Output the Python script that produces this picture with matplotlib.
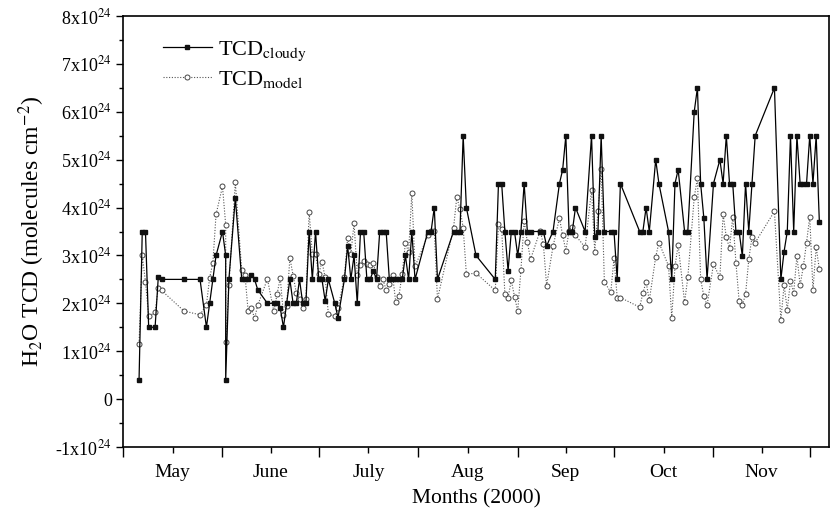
import matplotlib
matplotlib.use("Agg")
import matplotlib.pyplot as plt
from matplotlib.ticker import FixedLocator, FuncFormatter, MultipleLocator

plt.rcParams['font.family'] = ['Liberation Serif', 'DejaVu Serif']
plt.rcParams['mathtext.fontset'] = 'stix'

# days since 1 May 2000
days = [5, 6, 7, 8, 10, 11, 12,
        19, 24, 26, 27, 28, 29, 31, 32, 32, 33, 35,
        37, 38, 39, 40, 41, 42,
        45, 47, 48, 49, 50, 51, 52, 53, 54, 55, 56, 57, 58, 59, 60, 61, 62, 63, 64,
        66, 67,
        69, 70, 71, 72, 73, 74, 75, 76, 77, 78, 79, 80, 81, 82, 83, 84, 85, 86, 87, 88, 89, 90, 91,
        95, 96, 97, 98,
        103, 104, 105, 106, 107, 110,
        116, 117, 118, 119, 120, 121, 122, 123, 124, 125, 126, 127,
        130, 131, 132, 134,
        136, 137, 138, 139, 140, 141, 144,
        146, 147, 148, 149, 150,
        152, 153, 154, 155,
        161, 162, 163, 164, 166, 167,
        170, 171, 172, 173, 175, 176,
        178, 179, 180, 181, 182, 184,
        186, 187, 188, 189, 190, 191, 192, 193, 194, 195, 196, 197,
        203,
        205, 206, 207, 208, 209, 210, 211, 212, 213, 214, 215, 216, 217]

# TCD in units of 1e24 molecules cm^-2
tcd_cloudy = [0.4, 3.5, 3.5, 1.5, 1.5, 2.55, 2.5,
              2.5, 2.5, 1.5, 2.0, 2.5, 3.0, 3.5, 3.0, 0.4, 2.5, 4.2,
              2.5, 2.5, 2.5, 2.6, 2.5, 2.28,
              2.0, 2.0, 2.0, 1.9, 1.5, 2.0, 2.5, 2.0, 2.0, 2.5, 2.0, 2.0, 3.5, 2.5, 3.5, 2.5, 2.5, 2.05, 2.5,
              2.0, 1.7,
              2.5, 3.2, 2.5, 3.0, 2.0, 3.5, 3.5, 2.5, 2.5, 2.68, 2.5, 3.5, 3.5, 3.5, 2.5, 2.5, 2.5, 2.5, 2.5, 3.0, 2.5, 3.5, 2.5,
              3.5, 3.5, 4.0, 2.5,
              3.5, 3.5, 3.5, 5.5, 4.0, 3.0,
              2.5, 4.5, 4.5, 3.5, 2.68, 3.5, 3.5, 3.0, 3.5, 4.5, 3.5, 3.5,
              3.5, 3.5, 3.2, 3.5,
              4.5, 4.79, 5.5, 3.5, 3.5, 4.0, 3.5,
              5.5, 3.38, 3.5, 5.5, 3.5,
              3.5, 3.5, 2.5, 4.5,
              3.5, 3.5, 4.0, 3.5, 5.0, 4.5,
              3.5, 2.5, 4.5, 4.79, 3.5, 3.5,
              6.0, 6.5, 4.5, 3.78, 2.5, 4.5,
              5.0, 4.5, 5.5, 4.5, 4.5, 3.5, 3.5, 2.98, 4.5, 3.5, 4.5, 5.5,
              6.5,
              2.5, 3.08, 3.5, 5.5, 3.5, 5.5, 4.5, 4.5, 4.5, 5.5, 4.5, 5.5, 3.69]

tcd_model = [1.16, 3.0, 2.45, 1.73, 1.81, 2.33, 2.27,
             1.84, 1.76, 1.97, 2.53, 2.85, 3.86, 4.44, 3.64, 1.19, 2.38, 4.53,
             2.69, 2.6, 1.83, 1.9, 1.69, 1.96,
             2.51, 1.83, 2.19, 2.53, 1.76, 1.95, 2.95, 2.58, 2.22, 2.1, 1.9, 2.09, 3.91, 3.02, 3.02, 2.61, 2.87, 2.54, 1.77,
             1.74, 1.9,
             2.55, 3.37, 3.03, 3.67, 2.6, 2.8, 2.89, 2.83, 2.8, 2.85, 2.55, 2.36, 2.5, 2.28, 2.41, 2.59, 2.02, 2.16, 2.62, 3.26, 3.07, 4.3, 2.77,
             3.42, 3.51, 3.51, 2.09,
             3.57, 4.21, 3.98, 3.58, 2.61, 2.63,
             2.27, 3.65, 3.56, 2.19, 2.12, 2.48, 2.14, 1.84, 2.7, 3.72, 3.28, 2.92,
             3.52, 3.23, 2.37, 3.19,
             3.78, 3.42, 3.1, 3.51, 3.6, 3.42, 3.17,
             4.37, 3.08, 3.92, 4.8, 2.45,
             2.23, 2.94, 2.12, 2.12,
             1.92, 2.21, 2.45, 2.06, 2.97, 3.27,
             2.78, 1.7, 2.77, 3.22, 2.02, 2.54,
             4.21, 4.62, 2.5, 2.15, 1.96, 2.82,
             2.54, 3.86, 3.38, 3.15, 3.81, 2.85, 2.04, 1.96, 2.19, 2.92, 3.38, 3.27,
             3.92,
             1.65, 2.38, 1.87, 2.47, 2.22, 2.99, 2.38, 2.77, 3.27, 3.81, 2.28, 3.17, 2.71]

month_names = ['May', 'June', 'July', 'Aug', 'Sep', 'Oct', 'Nov']
month_starts = [0, 31, 61, 92, 123, 153, 184, 214]

fig = plt.figure(figsize=(8.31, 5.13), dpi=100)
ax = fig.add_axes([123/831, 66/513, (829-123)/831, (447-16)/513])

ax.plot(days, tcd_model, linestyle=(0, (1, 1.5)), color='#555555', linewidth=0.8,
        marker='o', markersize=3.6, markerfacecolor='white', markeredgecolor='#444444',
        markeredgewidth=0.7, label=r'TCD$_{\mathrm{model}}$', zorder=2)
ax.plot(days, tcd_cloudy, linestyle='-', color='black', linewidth=0.9,
        marker='s', markersize=3.3, markerfacecolor='#111111', markeredgecolor='#111111',
        label=r'TCD$_{\mathrm{cloudy}}$', zorder=3)

ax.set_xlim(0, 220)
ax.set_ylim(-1, 8)

ax.xaxis.set_major_locator(FixedLocator(month_starts))
mids = [(month_starts[i] + month_starts[i+1]) / 2 for i in range(len(month_names))]
ax.xaxis.set_minor_locator(FixedLocator(mids))
ax.set_xticklabels([])
ax.set_xticklabels(month_names, minor=True)

ax.yaxis.set_major_locator(MultipleLocator(1))
ax.yaxis.set_minor_locator(MultipleLocator(0.5))

def yfmt(v, pos):
    if abs(v) < 1e-9:
        return '0'
    return r'%dx10$^{24}$' % int(round(v))
ax.yaxis.set_major_formatter(FuncFormatter(yfmt))

ax.tick_params(axis='both', which='both', direction='out', top=False, right=False, width=1.0)
ax.tick_params(axis='y', which='major', length=5, labelsize=13, pad=3)
ax.tick_params(axis='y', which='minor', length=3)
ax.tick_params(axis='x', which='major', length=7)
ax.tick_params(axis='x', which='minor', length=4, labelsize=14, pad=8)

for s in ax.spines.values():
    s.set_linewidth(1.2)

ax.set_xlabel('Months (2000)', fontsize=15.5, labelpad=6)
ax.set_ylabel(r'H$_2$O TCD (molecules cm$^{-2}$)', fontsize=17, labelpad=6)

handles, labels = ax.get_legend_handles_labels()
ax.legend(handles[::-1], labels[::-1], loc='upper left', bbox_to_anchor=(0.028, 0.992),
          frameon=False, fontsize=16, handlelength=2.2, handletextpad=0.27,
          labelspacing=0.25, numpoints=1)

fig.savefig('out.png', dpi=100)
